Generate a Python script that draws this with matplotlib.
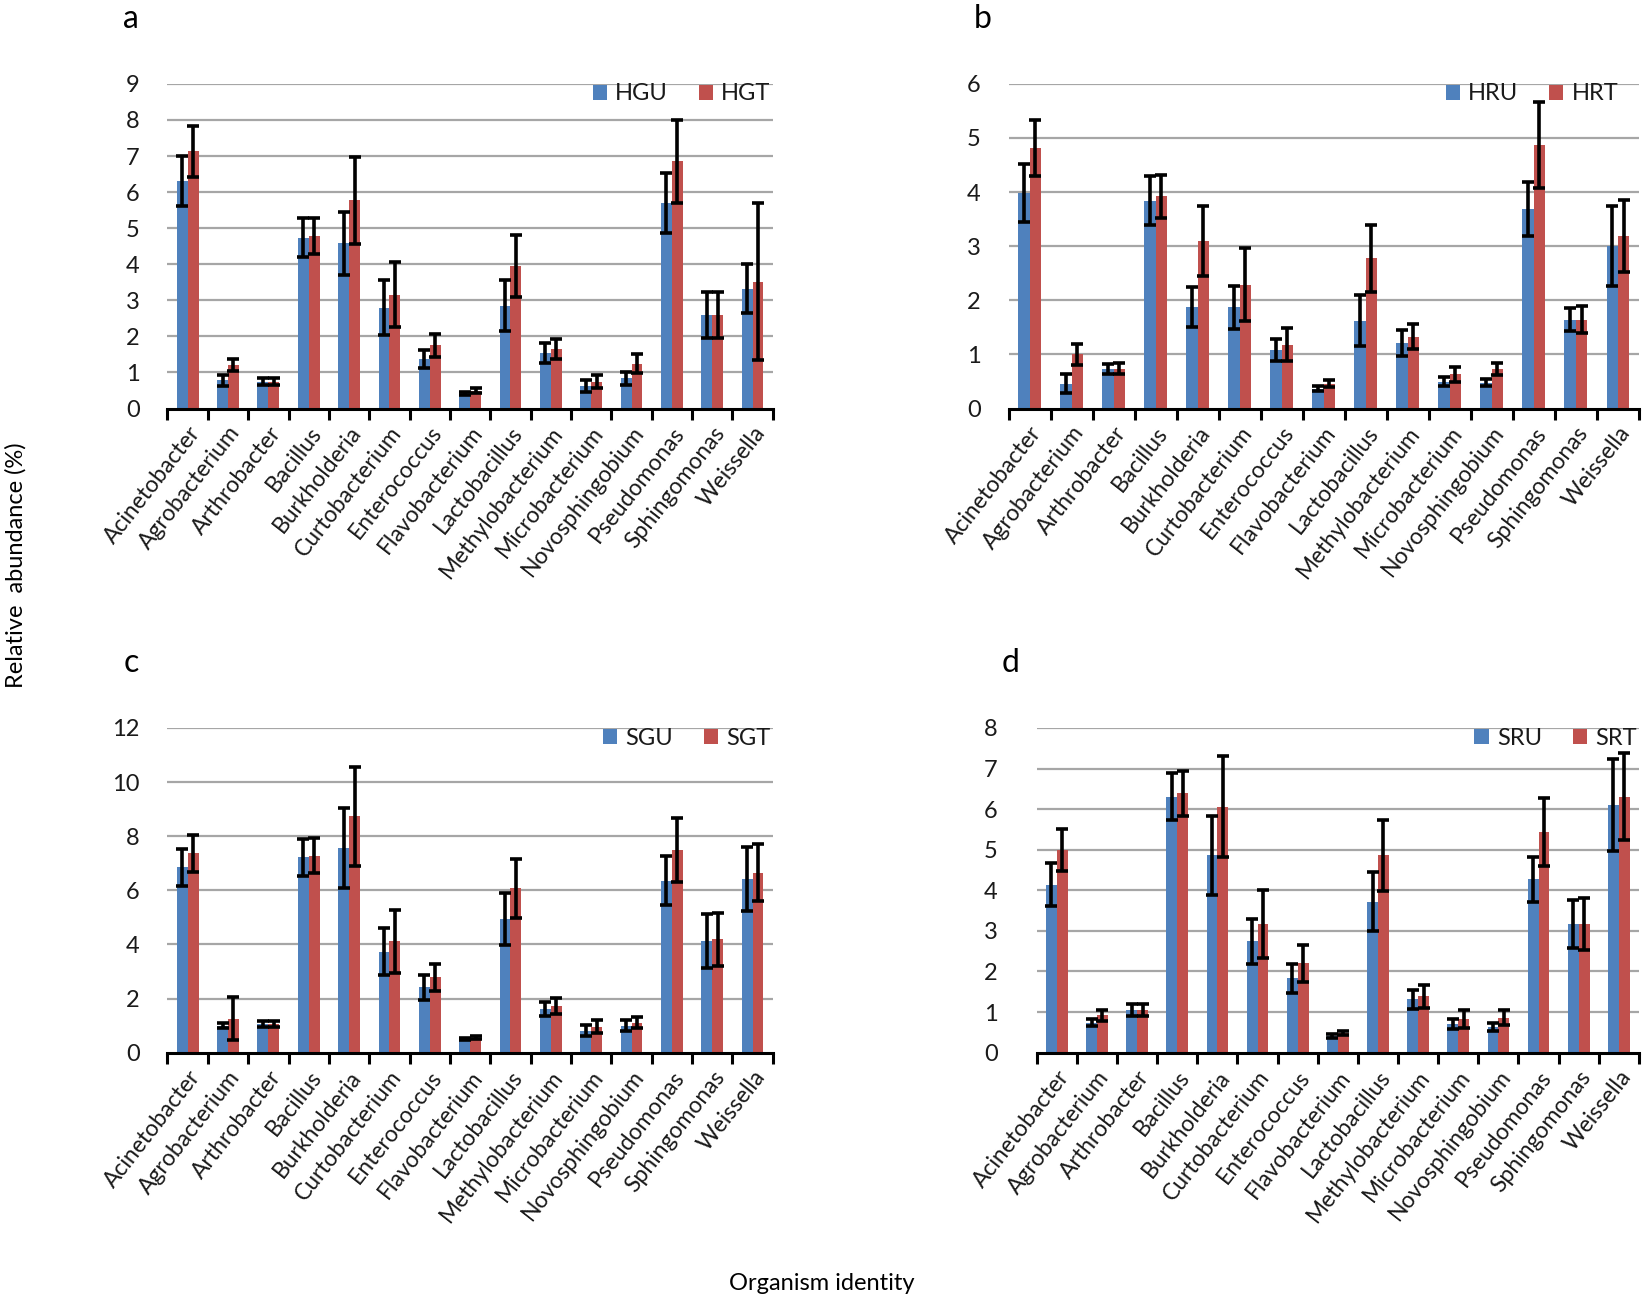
import matplotlib
matplotlib.use("Agg")
import matplotlib.pyplot as plt
from matplotlib.patches import Patch
import numpy as np

plt.rcParams['font.family'] = ['Lato', 'DejaVu Sans']

genres = ["Acinetobacter", "Agrobacterium", "Arthrobacter", "Bacillus", "Burkholderia",
          "Curtobacterium", "Enterococcus", "Flavobacterium", "Lactobacillus",
          "Methylobacterium", "Microbacterium", "Novosphingobium", "Pseudomonas",
          "Sphingomonas", "Weissella"]

# a : HGU / HGT
hgu = [6.31, 0.78, 0.75, 4.74, 4.58, 2.79, 1.37, 0.42, 2.85, 1.54, 0.63, 0.84, 5.70, 2.60, 3.32]
hgu_err = [0.70, 0.15, 0.10, 0.55, 0.87, 0.76, 0.25, 0.05, 0.70, 0.28, 0.17, 0.18, 0.84, 0.64, 0.68]
hgt = [7.13, 1.21, 0.75, 4.79, 5.77, 3.15, 1.75, 0.50, 3.95, 1.65, 0.75, 1.24, 6.85, 2.60, 3.52]
hgt_err = [0.70, 0.17, 0.10, 0.50, 1.20, 0.90, 0.33, 0.06, 0.86, 0.28, 0.18, 0.26, 1.15, 0.64, 2.18]

# b : HRU / HRT
hru = [3.98, 0.46, 0.73, 3.84, 1.87, 1.87, 1.08, 0.37, 1.62, 1.22, 0.50, 0.48, 3.68, 1.64, 3.01]
hru_err = [0.53, 0.18, 0.10, 0.45, 0.37, 0.40, 0.20, 0.04, 0.47, 0.24, 0.08, 0.07, 0.50, 0.21, 0.74]
hrt = [4.82, 1.00, 0.74, 3.92, 3.10, 2.29, 1.18, 0.46, 2.78, 1.33, 0.63, 0.73, 4.87, 1.64, 3.19]
hrt_err = [0.52, 0.19, 0.10, 0.40, 0.65, 0.67, 0.31, 0.06, 0.62, 0.23, 0.13, 0.11, 0.80, 0.25, 0.67]

# c : SGU / SGT
sgu = [6.85, 1.00, 1.06, 7.22, 7.58, 3.73, 2.41, 0.50, 4.94, 1.62, 0.81, 1.00, 6.36, 4.12, 6.42]
sgu_err = [0.68, 0.10, 0.10, 0.68, 1.48, 0.86, 0.45, 0.05, 0.95, 0.27, 0.20, 0.20, 0.90, 1.00, 1.18]
sgt = [7.37, 1.25, 1.06, 7.28, 8.73, 4.12, 2.78, 0.56, 6.07, 1.72, 0.96, 1.10, 7.49, 4.19, 6.65]
sgt_err = [0.68, 0.80, 0.10, 0.65, 1.82, 1.17, 0.50, 0.05, 1.08, 0.30, 0.25, 0.20, 1.20, 0.97, 1.05]

# d : SRU / SRT
sru = [4.14, 0.74, 1.06, 6.31, 4.86, 2.74, 1.83, 0.41, 3.72, 1.31, 0.70, 0.63, 4.27, 3.17, 6.10]
sru_err = [0.53, 0.08, 0.15, 0.58, 0.97, 0.55, 0.35, 0.04, 0.73, 0.24, 0.12, 0.10, 0.55, 0.60, 1.13]
srt = [4.99, 0.92, 1.06, 6.39, 6.06, 3.17, 2.20, 0.49, 4.86, 1.39, 0.82, 0.86, 5.43, 3.17, 6.31]
srt_err = [0.51, 0.14, 0.15, 0.56, 1.25, 0.83, 0.45, 0.05, 0.87, 0.28, 0.22, 0.18, 0.84, 0.63, 1.07]

BLEU = "#4F81BD"
ROUGE = "#C0504D"


def tracer_panneau(ax, noms, u, u_err, t, t_err, ymax, pas, ypad=20, leg_x=1.02):
    x = np.arange(len(genres))
    w = 0.27
    err_kw = dict(ecolor="black", elinewidth=2.6, capsize=4.5, capthick=2.6)

    # grille horizontale derriere les barres
    for y in np.arange(pas, ymax + pas / 2, pas):
        ax.axhline(y, color="#A6A6A6", lw=1.6, zorder=0)

    ax.bar(x - w / 2, u, w, color=BLEU, yerr=u_err, error_kw=err_kw, zorder=2)
    ax.bar(x + w / 2, t, w, color=ROUGE, yerr=t_err, error_kw=err_kw, zorder=2)

    ax.set_xlim(-0.5, len(genres) - 0.5)
    ax.set_ylim(0, ymax)
    ax.set_yticks(np.arange(0, ymax + pas / 2, pas))
    ax.tick_params(axis="y", length=0, labelsize=17, labelcolor="#1a1a1a", pad=ypad)

    ax.set_xticks(x)
    ax.set_xticklabels(genres, rotation=52, ha="right", rotation_mode="anchor",
                       fontsize=16.5, color="#1a1a1a")
    ax.set_xticks(np.arange(-0.5, len(genres)), minor=True)
    ax.tick_params(axis="x", which="major", length=0, pad=10)
    ax.tick_params(axis="x", which="minor", length=8, width=2.2, color="black")

    for s in ["left", "right", "top"]:
        ax.spines[s].set_visible(False)
    ax.spines["bottom"].set_linewidth(2.2)
    ax.spines["bottom"].set_zorder(3)

    poignees = [Patch(facecolor=BLEU), Patch(facecolor=ROUGE)]
    ax.legend(poignees, noms, loc="upper right", bbox_to_anchor=(leg_x, 1.045), ncol=2,
              frameon=False, fontsize=17, handlelength=0.6, handleheight=0.6,
              handletextpad=0.35, columnspacing=1.3, borderpad=0.1,
              labelcolor="#1a1a1a")


fig = plt.figure(figsize=(16.42, 13.02), dpi=100)

ax_a = fig.add_axes([0.1020, 0.6862, 0.3686, 0.2494])
ax_b = fig.add_axes([0.6142, 0.6862, 0.3839, 0.2494])
ax_c = fig.add_axes([0.1020, 0.1915, 0.3686, 0.2494])
ax_d = fig.add_axes([0.6314, 0.1915, 0.3667, 0.2494])

tracer_panneau(ax_a, ["HGU", "HGT"], hgu, hgu_err, hgt, hgt_err, 9, 1)
tracer_panneau(ax_b, ["HRU", "HRT"], hru, hru_err, hrt, hrt_err, 6, 1, leg_x=0.99)
tracer_panneau(ax_c, ["SGU", "SGT"], sgu, sgu_err, sgt, sgt_err, 12, 2)
tracer_panneau(ax_d, ["SRU", "SRT"], sru, sru_err, srt, srt_err, 8, 1, ypad=28)

# lettres des panneaux
for lettre, (px, py) in zip("abcd", [(0.0797, 0.9855), (0.5982, 0.9855),
                                      (0.0797, 0.4907), (0.6154, 0.4907)]):
    fig.text(px, py, lettre, fontsize=23, ha="center", va="center")

fig.text(0.003, 0.5656, "Relative  abundance (%)", rotation=90, fontsize=17,
         ha="left", va="center")
fig.text(0.5006, 0.0145, "Organism identity", fontsize=17, ha="center", va="center")

fig.savefig("out.png", dpi=100)
